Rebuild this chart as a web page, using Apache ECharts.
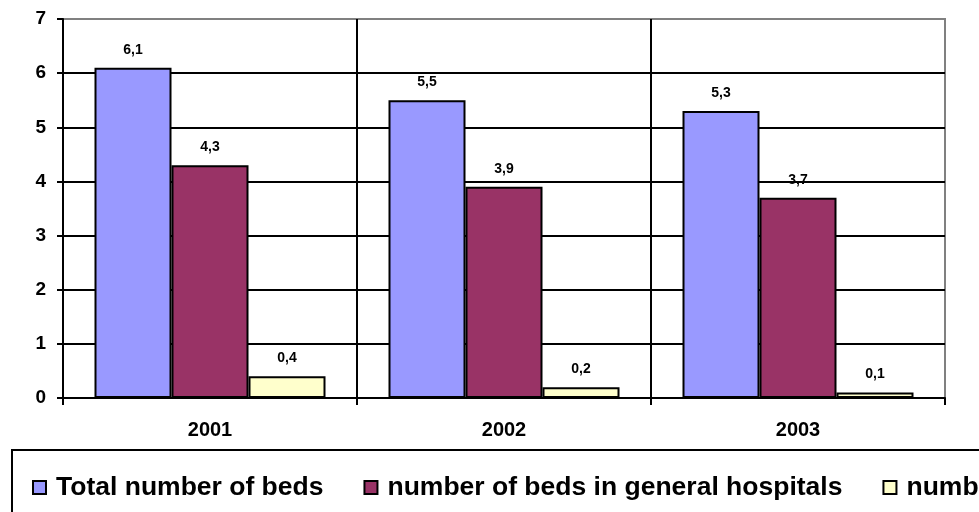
<!DOCTYPE html>
<html>
<head>
<meta charset="utf-8">
<script src="https://cdn.jsdelivr.net/npm/echarts@6/dist/echarts.min.js"></script>
<style>
  html, body { margin: 0; padding: 0; background: #fff; }
  #chart { width: 979px; height: 512px; }
</style>
</head>
<body>
<div id="chart"></div>
<script>
// Hospital beds per year (per 1,000 population)
const years = ['2001', '2002', '2003'];
const seriesNames = [
  'Total number of beds',
  'number of beds in general hospitals',
  'number of beds in special hospitals'
];
const totalBeds = [6.1, 5.5, 5.3];
const generalBeds = [4.3, 3.9, 3.7];
const specialBeds = [0.4, 0.2, 0.1];
const yTicks = [0, 1, 2, 3, 4, 5, 6, 7];

const FONT = "'Liberation Sans', Arial, sans-serif";
const colors = ['#9999FF', '#993366', '#FFFFCC'];

const chart = echarts.init(document.getElementById('chart'), null, { renderer: 'canvas' });

function barSeries(name, data, color) {
  return {
    name: name,
    type: 'bar',
    data: data,
    barWidth: 77,
    barGap: '0%',
    itemStyle: { color: color, borderColor: '#000', borderWidth: 2 },
    label: {
      show: true,
      position: 'top',
      distance: 11,
      fontFamily: FONT,
      fontSize: 14,
      fontWeight: 'bold',
      color: '#000',
      formatter: p => String(p.value).replace('.', ',')
    }
  };
}

chart.setOption({
  animation: false,
  color: colors,
  grid: {
    left: 63, right: 34, top: 19, bottom: 114,
    show: true, borderColor: '#808080', borderWidth: 2,
    backgroundColor: 'transparent', containLabel: false
  },
  xAxis: {
    type: 'category',
    data: years,
    axisLine: { lineStyle: { color: '#000', width: 2 } },
    axisTick: { show: true, length: 7, lineStyle: { color: '#000', width: 2 } },
    axisLabel: { fontFamily: FONT, fontSize: 20, fontWeight: 'bold', color: '#000', margin: 22 },
    splitLine: { show: true, showMinLine: false, showMaxLine: false, lineStyle: { color: '#000', width: 2 } }
  },
  yAxis: {
    type: 'value',
    min: yTicks[0],
    max: yTicks[yTicks.length - 1],
    interval: 1,
    axisLine: { show: true, lineStyle: { color: '#000', width: 2 } },
    axisTick: { show: true, length: 6, lineStyle: { color: '#000', width: 2 } },
    axisLabel: { fontFamily: FONT, fontSize: 19, fontWeight: 'bold', color: '#000', margin: 17 },
    splitLine: { show: true, showMaxLine: false, lineStyle: { color: '#000', width: 2 } }
  },
  legend: {
    orient: 'horizontal',
    left: 32,
    top: 474,
    padding: 0,
    width: 3000,
    itemWidth: 13,
    itemHeight: 13,
    itemGap: 40,
    icon: 'rect',
    textStyle: { fontFamily: FONT, fontSize: 26.5, fontWeight: 'bold', color: '#000', padding: [0, 0, 0, 5] },
    data: seriesNames
  },
  graphic: [{
    type: 'rect',
    silent: true,
    shape: { x: 12, y: 450, width: 1000, height: 100 },
    style: { fill: 'none', stroke: '#000', lineWidth: 2 }
  }],
  series: [
    barSeries(seriesNames[0], totalBeds, colors[0]),
    barSeries(seriesNames[1], generalBeds, colors[1]),
    barSeries(seriesNames[2], specialBeds, colors[2])
  ]
});
</script>
</body>
</html>
